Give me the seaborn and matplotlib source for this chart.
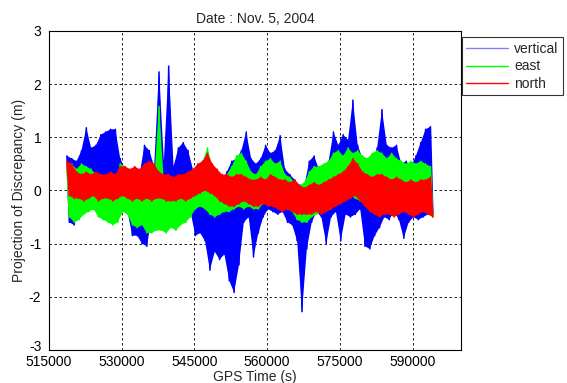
import numpy as np
import pandas as pd
import matplotlib
matplotlib.use("Agg")
import matplotlib.pyplot as plt
import matplotlib.transforms as mtransforms
import seaborn as sns
from matplotlib.lines import Line2D

title = "Date : Nov. 5, 2004"
xlabel = "GPS Time (s)"
ylabel = "Projection of Discrepancy (m)"
series_names = ["vertical", "east", "north"]
series_colors = ["#0000ff", "#00ff00", "#ff0000"]
legend_colors = ["#8080ff", "#00ff00", "#ff0000"]
xticks = [515000, 530000, 545000, 560000, 575000, 590000]
yticks = [-3, -2, -1, 0, 1, 2, 3]

# start of each 1000 s bin (GPS s); upper value at bin start, lower value half a bin later
bin_start = 518700
bin_step = 1000

vertical_hi = [0.65, 0.6, 0.55, 0.75, 1.18, 0.8, 0.85, 1.05, 1.1, 1.15,
               1.15, 0.6, 0.4, 0.3, 0.3, 0.3, 0.85, 0.75, 0.45, 2.23,
               0.55, 2.34, 0.45, 0.8, 0.9, 0.75, 0.4, 0.2, 0.3, 0.45,
               0.15, 0.05, 0.2, 0.35, 0.55, 0.6, 0.75, 1.1, 0.6, 0.5,
               0.6, 0.85, 0.7, 0.75, 1.03, 0.4, 0.3, 0.2, 0.1, 0.1,
               0.55, 0.65, 0.4, 0.4, 0.55, 1.1, 0.85, 1.05, 0.95, 1.7,
               0.85, 0.6, 0.55, 0.55, 0.8, 1.52, 0.85, 0.8, 0.85, 0.5,
               0.55, 0.45, 0.65, 0.9, 1.15, 1.2]
vertical_lo = [-0.6, -0.65, -0.4, -0.3, -0.3, -0.35, -0.3, -0.35, -0.3, -0.4,
               -0.35, -0.2, -0.4, -0.85, -0.85, -1.0, -1.05, -0.5, -0.35, -0.3,
               -0.3, -0.35, -0.3, -0.3, -0.35, -0.4, -0.85, -0.8, -0.95, -1.5,
               -1.15, -1.3, -1.2, -1.7, -1.92, -1.4, -0.6, -0.5, -1.25, -0.8,
               -0.5, -0.35, -0.4, -0.45, -0.4, -0.6, -0.65, -0.95, -2.28, -1.1,
               -0.6, -0.4, -0.5, -1.0, -0.5, -0.4, -0.95, -0.45, -0.5, -0.45,
               -0.35, -1.05, -1.1, -0.85, -0.7, -0.5, -0.55, -0.4, -0.55, -0.9,
               -0.6, -0.5, -0.55, -0.5, -0.45, -0.45]

east_hi = [0.45, 0.5, 0.4, 0.5, 0.45, 0.4, 0.3, 0.3, 0.25, 0.25,
           0.2, 0.5, 0.45, 0.4, 0.3, 0.35, 0.35, 0.3, 0.2, 1.58,
           0.15, 0.1, 0.1, 0.15, 0.1, 0.2, 0.3, 0.4, 0.55, 0.8,
           0.45, 0.25, 0.2, 0.3, 0.45, 0.65, 0.7, 0.55, 0.35, 0.3,
           0.45, 0.55, 0.6, 0.5, 0.55, 0.3, 0.25, 0.15, 0.1, 0.15,
           0.35, 0.45, 0.45, 0.5, 0.55, 0.7, 0.75, 0.65, 0.8, 0.7,
           0.75, 0.65, 0.6, 0.7, 0.75, 0.7, 0.6, 0.7, 0.6, 0.55,
           0.5, 0.55, 0.5, 0.55, 0.5, 0.45]
east_lo = [-0.5, -0.6, -0.55, -0.45, -0.4, -0.35, -0.5, -0.55, -0.6, -0.65,
           -0.6, -0.4, -0.45, -0.65, -0.7, -0.65, -0.8, -0.8, -0.75, -0.75,
           -0.8, -0.7, -0.75, -0.65, -0.6, -0.5, -0.35, -0.3, -0.35, -0.45,
           -0.5, -0.45, -0.4, -0.4, -0.35, -0.3, -0.35, -0.3, -0.35, -0.35,
           -0.25, -0.2, -0.2, -0.25, -0.3, -0.35, -0.4, -0.55, -0.6, -0.6,
           -0.5, -0.45, -0.4, -0.4, -0.35, -0.2, -0.15, -0.1, -0.1, -0.15,
           -0.2, -0.2, -0.25, -0.2, -0.2, -0.15, -0.2, -0.15, -0.2, -0.25,
           -0.3, -0.3, -0.3, -0.35, -0.45, -0.5]

north_hi = [0.55, 0.5, 0.35, 0.3, 0.35, 0.3, 0.35, 0.3, 0.3, 0.35,
            0.3, 0.45, 0.45, 0.4, 0.45, 0.4, 0.5, 0.55, 0.5, 0.35,
            0.3, 0.3, 0.25, 0.3, 0.3, 0.35, 0.4, 0.5, 0.55, 0.7,
            0.5, 0.4, 0.3, 0.3, 0.25, 0.3, 0.3, 0.25, 0.2, 0.2,
            0.25, 0.2, 0.3, 0.25, 0.2, 0.2, 0.15, 0.2, 0.1, 0.05,
            0.1, 0.15, 0.1, 0.15, 0.2, 0.25, 0.3, 0.35, 0.45, 0.6,
            0.5, 0.35, 0.3, 0.25, 0.3, 0.3, 0.25, 0.2, 0.25, 0.2,
            0.15, 0.2, 0.15, 0.2, 0.2, 0.25]
north_lo = [-0.1, -0.15, -0.15, -0.2, -0.15, -0.1, -0.2, -0.15, -0.15, -0.2,
            -0.15, -0.1, -0.15, -0.2, -0.15, -0.2, -0.15, -0.2, -0.15, -0.15,
            -0.2, -0.2, -0.2, -0.15, -0.2, -0.15, -0.1, -0.05, 0.0, -0.05,
            -0.1, -0.2, -0.25, -0.3, -0.3, -0.25, -0.2, -0.25, -0.3, -0.3,
            -0.25, -0.3, -0.3, -0.35, -0.4, -0.35, -0.4, -0.45, -0.45, -0.45,
            -0.45, -0.4, -0.45, -0.4, -0.35, -0.3, -0.25, -0.2, -0.15, -0.1,
            -0.2, -0.3, -0.4, -0.45, -0.5, -0.45, -0.45, -0.5, -0.45, -0.4,
            -0.45, -0.5, -0.45, -0.4, -0.45, -0.5]

series_hi = [vertical_hi, east_hi, north_hi]
series_lo = [vertical_lo, east_lo, north_lo]

rows = []
for name, hi, lo in zip(series_names, series_hi, series_lo):
    for k, (h, l) in enumerate(zip(hi, lo)):
        t = bin_start + k * bin_step
        rows.append((name, t, h, "hi"))
        rows.append((name, t + bin_step / 2, l, "lo"))
df = pd.DataFrame(rows, columns=["series", "t", "v", "edge"])

sns.set_style("white")
plt.rcParams["font.family"] = ["Liberation Sans", "DejaVu Sans"]

fig = plt.figure(figsize=(5.67, 3.83), dpi=100)
ax = fig.add_axes([0.0864, 0.0862, 0.7266, 0.8330])

for name, color in zip(series_names, series_colors):
    sub = df[df["series"] == name]
    up = sub[sub["edge"] == "hi"]
    dn = sub[sub["edge"] == "lo"]
    # dense band between the upper and lower envelopes
    ax.fill(np.r_[up["t"].values, dn["t"].values[::-1]],
            np.r_[up["v"].values, dn["v"].values[::-1]],
            color=color, linewidth=0, zorder=2)
    sns.lineplot(data=sub, x="t", y="v", color=color, estimator=None,
                 sort=False, linewidth=1.1, legend=False, ax=ax, zorder=2)

ax.set_xlim(515000, 600000)
ax.set_ylim(-3, 3)
ax.set_xticks(xticks)
ax.set_yticks(yticks)
ax.set_xticklabels([str(x) for x in xticks], fontsize=10)
ax.set_yticklabels([str(y) for y in yticks], fontsize=10)
ax.grid(True, color="black", linestyle=(0, (3, 3)), linewidth=0.6)
ax.set_axisbelow(True)
ax.tick_params(axis="x", direction="in", length=3, width=0.6, pad=3.5, colors="black")
ax.tick_params(axis="y", direction="in", length=3, width=0.6, pad=5.5, colors="black")
# lift the lowest y label a little so it clears the first x label
low_lab = ax.get_yticklabels()[0]
low_lab.set_transform(low_lab.get_transform() +
                      mtransforms.ScaledTranslation(0, 3 / 72, fig.dpi_scale_trans))
for s in ax.spines.values():
    s.set_color("black")
    s.set_linewidth(0.8)
    s.set_zorder(5)
ax.set_title(title, fontsize=10, pad=6)
ax.set_xlabel(xlabel, fontsize=10, labelpad=1)
ax.set_ylabel(ylabel, fontsize=10, labelpad=2)

handles = [Line2D([0], [0], color=c, lw=1.0) for c in legend_colors]
leg = fig.legend(handles, series_names, loc="upper left",
                 bbox_to_anchor=(462 / 567, 1 - 37.5 / 383), fontsize=10,
                 frameon=True, fancybox=False, borderpad=0.3, labelspacing=0.27,
                 handlelength=3.0, handletextpad=0.45, borderaxespad=0)
leg.get_frame().set_edgecolor("black")
leg.get_frame().set_linewidth(0.8)

fig.savefig("out.png", dpi=100)
